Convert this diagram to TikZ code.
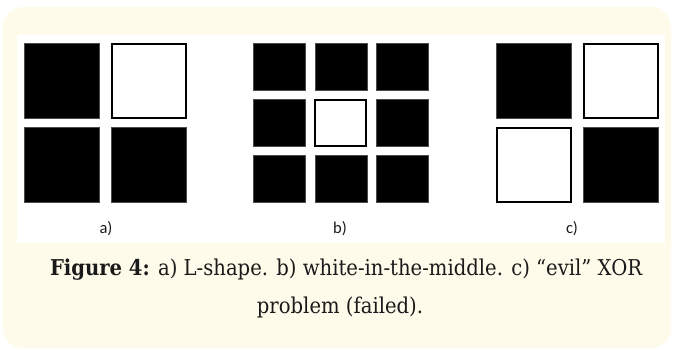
\documentclass[tikz,border=0pt]{standalone}
\usepackage{fontspec}
\setmainfont{DejaVu Serif Condensed}
\newfontfamily\lblfont{Carlito}
\definecolor{panelcream}{HTML}{FEFBEA}
\definecolor{captextcol}{HTML}{1A1A1A}
\newlength\capw
\settowidth\capw{\fontsize{20pt}{24pt}\selectfont\textbf{Figure 4:} a) L-shape. b) white-in-the-middle. c) “evil” XOR}
\pgfmathsetmacro\capscale{592/\capw}
\tikzset{
  blk/.style={draw=black!70, line width=0.5pt, fill=black, inner sep=0pt, minimum width=#1},
  wht/.style={draw=black, line width=2pt, fill=white, inner sep=0pt, minimum width=#1},
  lbl/.style={font=\lblfont\fontsize{16.5pt}{19pt}\selectfont, text=captextcol, inner sep=0pt},
  captext/.style={font=\fontsize{20pt}{24pt}\selectfont, text=captextcol, scale=\capscale, inner sep=0pt, anchor=base}
}
\begin{document}
\begin{tikzpicture}[x=1pt,y=-1pt]
\useasboundingbox (0,0) rectangle (675,350);
\fill[panelcream, rounded corners=20pt] (3,7) rectangle (671,348);
\fill[white] (17,35) rectangle (665,243);
% a) L-shape
\node[blk=75pt, minimum height=75pt] (a11) at (61.3,80.7) {};
\node[wht=74pt, minimum height=74pt] (a12) at (148.9,80.7) {};
\node[blk=75pt, minimum height=75pt] (a21) at (61.3,165.2) {};
\node[blk=75pt, minimum height=75pt] (a22) at (148.9,165.2) {};
% b) white-in-the-middle
\node[blk=52pt, minimum height=47pt] (b11) at (279.2,66.7) {};
\node[blk=52pt, minimum height=47pt] (b12) at (340.8,66.7) {};
\node[blk=52pt, minimum height=47pt] (b13) at (402.7,66.7) {};
\node[blk=52pt, minimum height=47pt] (b21) at (279.2,122.9) {};
\node[wht=51pt, minimum height=46pt] (b22) at (340.8,122.9) {};
\node[blk=52pt, minimum height=47pt] (b23) at (402.7,122.9) {};
\node[blk=52pt, minimum height=47pt] (b31) at (279.2,179.2) {};
\node[blk=52pt, minimum height=47pt] (b32) at (340.8,179.2) {};
\node[blk=52pt, minimum height=47pt] (b33) at (402.7,179.2) {};
% c) XOR
\node[blk=75pt, minimum height=75pt] (c11) at (533.5,80.7) {};
\node[wht=74pt, minimum height=74pt] (c12) at (620.5,80.7) {};
\node[wht=74pt, minimum height=74pt] (c21) at (533.5,165.2) {};
\node[blk=75pt, minimum height=75pt] (c22) at (620.5,165.2) {};
% labels
\node[lbl] (la) at (106,229) {a)};
\node[lbl] (lb) at (340,229) {b)};
\node[lbl] (lc) at (572,229) {c)};
% caption
\node[captext] (cap1) at (346,275) {\textbf{Figure 4:} a) L-shape. b) white-in-the-middle. c) “evil” XOR};
\node[captext] (cap2) at (340,313) {problem (failed).};
\end{tikzpicture}
\end{document}
